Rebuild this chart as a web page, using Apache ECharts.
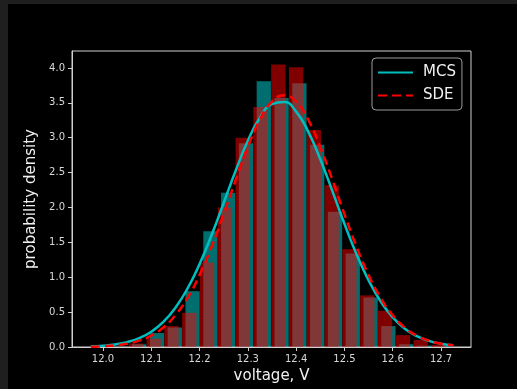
<!DOCTYPE html>
<html>
<head>
<meta charset="utf-8">
<script src="https://cdn.jsdelivr.net/npm/echarts@6/dist/echarts.min.js"></script>
<style>
html, body { margin: 0; padding: 0; background: #1f1f1f; }
#chart {
    position: absolute;
    left: 8px;
    top: 4px;
    width: 509px;
    height: 385px;
    background: #000;
}
</style>
</head>
<body>
<div id="chart"></div>
<script>
// histogram bins (left edges, V) and densities
var sdeBinLeft = [12.0536, 12.0904, 12.1273, 12.1641, 12.2010, 12.2378, 12.2747, 12.3115, 12.3483,
                  12.3852, 12.4220, 12.4589, 12.4957, 12.5326, 12.5694, 12.6063, 12.6431, 12.6799];
var mcsBinLeft = [12.0604, 12.0972, 12.1341, 12.1709, 12.2078, 12.2446, 12.2815, 12.3183, 12.3551,
                  12.3920, 12.4288, 12.4657, 12.5025, 12.5394, 12.5762, 12.6131, 12.6499, 12.6867];
var barWidth = 0.0295;
var sdeHist = [0.05, 0.12, 0.30, 0.49, 1.21, 2.00, 3.00, 3.44, 4.05, 4.01, 3.11, 2.32, 1.40, 0.74, 0.52, 0.17, 0.10, 0.03];
var mcsHist = [0.04, 0.20, 0.28, 0.80, 1.66, 2.21, 2.92, 3.81, 3.57, 3.78, 2.90, 1.94, 1.34, 0.71, 0.30, 0.04, 0.02, 0.01];

// density curves
var curveX = [11.975, 12.000, 12.025, 12.050, 12.075, 12.100, 12.125, 12.150, 12.175, 12.200, 12.225,
              12.250, 12.275, 12.300, 12.325, 12.350, 12.375, 12.400, 12.425, 12.450, 12.475, 12.500,
              12.525, 12.550, 12.575, 12.600, 12.625, 12.650, 12.675, 12.700, 12.725];
var mcsCurve = [0.009, 0.019, 0.037, 0.070, 0.127, 0.219, 0.36, 0.563, 0.837, 1.188, 1.605,
                2.065, 2.53, 2.956, 3.286, 3.481, 3.511, 3.374, 3.087, 2.691, 2.235, 1.767,
                1.330, 0.955, 0.653, 0.425, 0.263, 0.156, 0.088, 0.047, 0.024];
var sdeCurve = [0.005, 0.011, 0.024, 0.048, 0.091, 0.163, 0.279, 0.454, 0.702, 1.030, 1.437,
                1.904, 2.397, 2.866, 3.259, 3.519, 3.61, 3.519, 3.259, 2.866, 2.397, 1.904,
                1.437, 1.030, 0.702, 0.454, 0.279, 0.163, 0.091, 0.048, 0.024];

var xTicks = [12.0, 12.1, 12.2, 12.3, 12.4, 12.5, 12.6, 12.7];
var yTicks = [0, 0.5, 1.0, 1.5, 2.0, 2.5, 3.0, 3.5, 4.0];

function histData(left, h) {
    var d = [];
    for (var i = 0; i < left.length; i++) {
        d.push([left[i], left[i] + barWidth, h[i]]);
    }
    return d;
}
function curveData(ys) {
    var d = [];
    for (var i = 0; i < curveX.length; i++) d.push([curveX[i], ys[i]]);
    return d;
}
function barRenderer(fill) {
    return function (params, api) {
        var p0 = api.coord([api.value(0), api.value(2)]);
        var p1 = api.coord([api.value(1), 0]);
        return {
            type: 'rect',
            shape: { x: p0[0], y: p0[1], width: p1[0] - p0[0], height: p1[1] - p0[1] },
            style: { fill: fill, stroke: null, lineWidth: 0 }
        };
    };
}

var myChart = echarts.init(document.getElementById('chart'));
var labelColor = '#d8d8d8';
var option = {
    backgroundColor: '#000',
    animation: false,
    grid: {
        left: 64, top: 47, right: 46, bottom: 41,
        show: true, borderColor: '#d0d0d0', borderWidth: 1
    },
    legend: {
        orient: 'vertical',
        left: 364, top: 54,
        padding: [7, 6, 7, 5],
        itemWidth: 35, itemHeight: 14, itemGap: 8,
        backgroundColor: '#000',
        borderColor: '#9a9a9a', borderWidth: 1, borderRadius: 4,
        itemStyle: { opacity: 0 },
        textStyle: { color: '#f0f0f0', fontSize: 15, fontFamily: 'DejaVu Sans', padding: [0, 0, 0, 5] },
        data: ['MCS', 'SDE']
    },
    xAxis: {
        type: 'value', min: 11.936, max: 12.762,
        name: 'voltage, V', nameLocation: 'middle', nameGap: 22,
        nameTextStyle: { color: '#f0f0f0', fontSize: 15, fontFamily: 'DejaVu Sans', verticalAlign: 'top' },
        splitLine: { show: false },
        axisLine: { lineStyle: { color: '#d0d0d0' } },
        axisTick: { show: true, length: 4, customValues: xTicks, lineStyle: { color: '#d0d0d0' } },
        axisLabel: {
            customValues: xTicks, margin: 7, color: labelColor, fontSize: 10, fontFamily: 'DejaVu Sans',
            formatter: function (v) { return v.toFixed(1); }
        }
    },
    yAxis: {
        type: 'value', min: 0, max: 4.243,
        name: 'probability density', nameLocation: 'middle', nameGap: 31,
        nameTextStyle: { color: '#f0f0f0', fontSize: 15, fontFamily: 'DejaVu Sans' },
        splitLine: { show: false },
        axisLine: { show: true, lineStyle: { color: '#d0d0d0' } },
        axisTick: { show: true, length: 4, customValues: yTicks, lineStyle: { color: '#d0d0d0' } },
        axisLabel: {
            customValues: yTicks, margin: 7, color: labelColor, fontSize: 10, fontFamily: 'DejaVu Sans',
            formatter: function (v) { return v.toFixed(1); }
        }
    },
    series: [
        {
            name: 'MCS hist', type: 'custom', renderItem: barRenderer('rgba(0,220,220,0.5)'),
            data: histData(mcsBinLeft, mcsHist), encode: { x: [0, 1], y: 2 }, z: 1
        },
        {
            name: 'SDE hist', type: 'custom', renderItem: barRenderer('rgba(255,0,0,0.5)'),
            data: histData(sdeBinLeft, sdeHist), encode: { x: [0, 1], y: 2 }, z: 2
        },
        {
            name: 'MCS', type: 'line', smooth: true, symbol: 'none', z: 3,
            color: '#00bfbf',
            lineStyle: { color: '#00bfbf', width: 2.5 },
            data: curveData(mcsCurve)
        },
        {
            name: 'SDE', type: 'line', smooth: true, symbol: 'none', z: 4,
            color: '#ff0000',
            lineStyle: { color: '#ff0000', width: 2.5, type: [9, 5] },
            data: curveData(sdeCurve)
        }
    ]
};
myChart.setOption(option);
</script>
</body>
</html>
